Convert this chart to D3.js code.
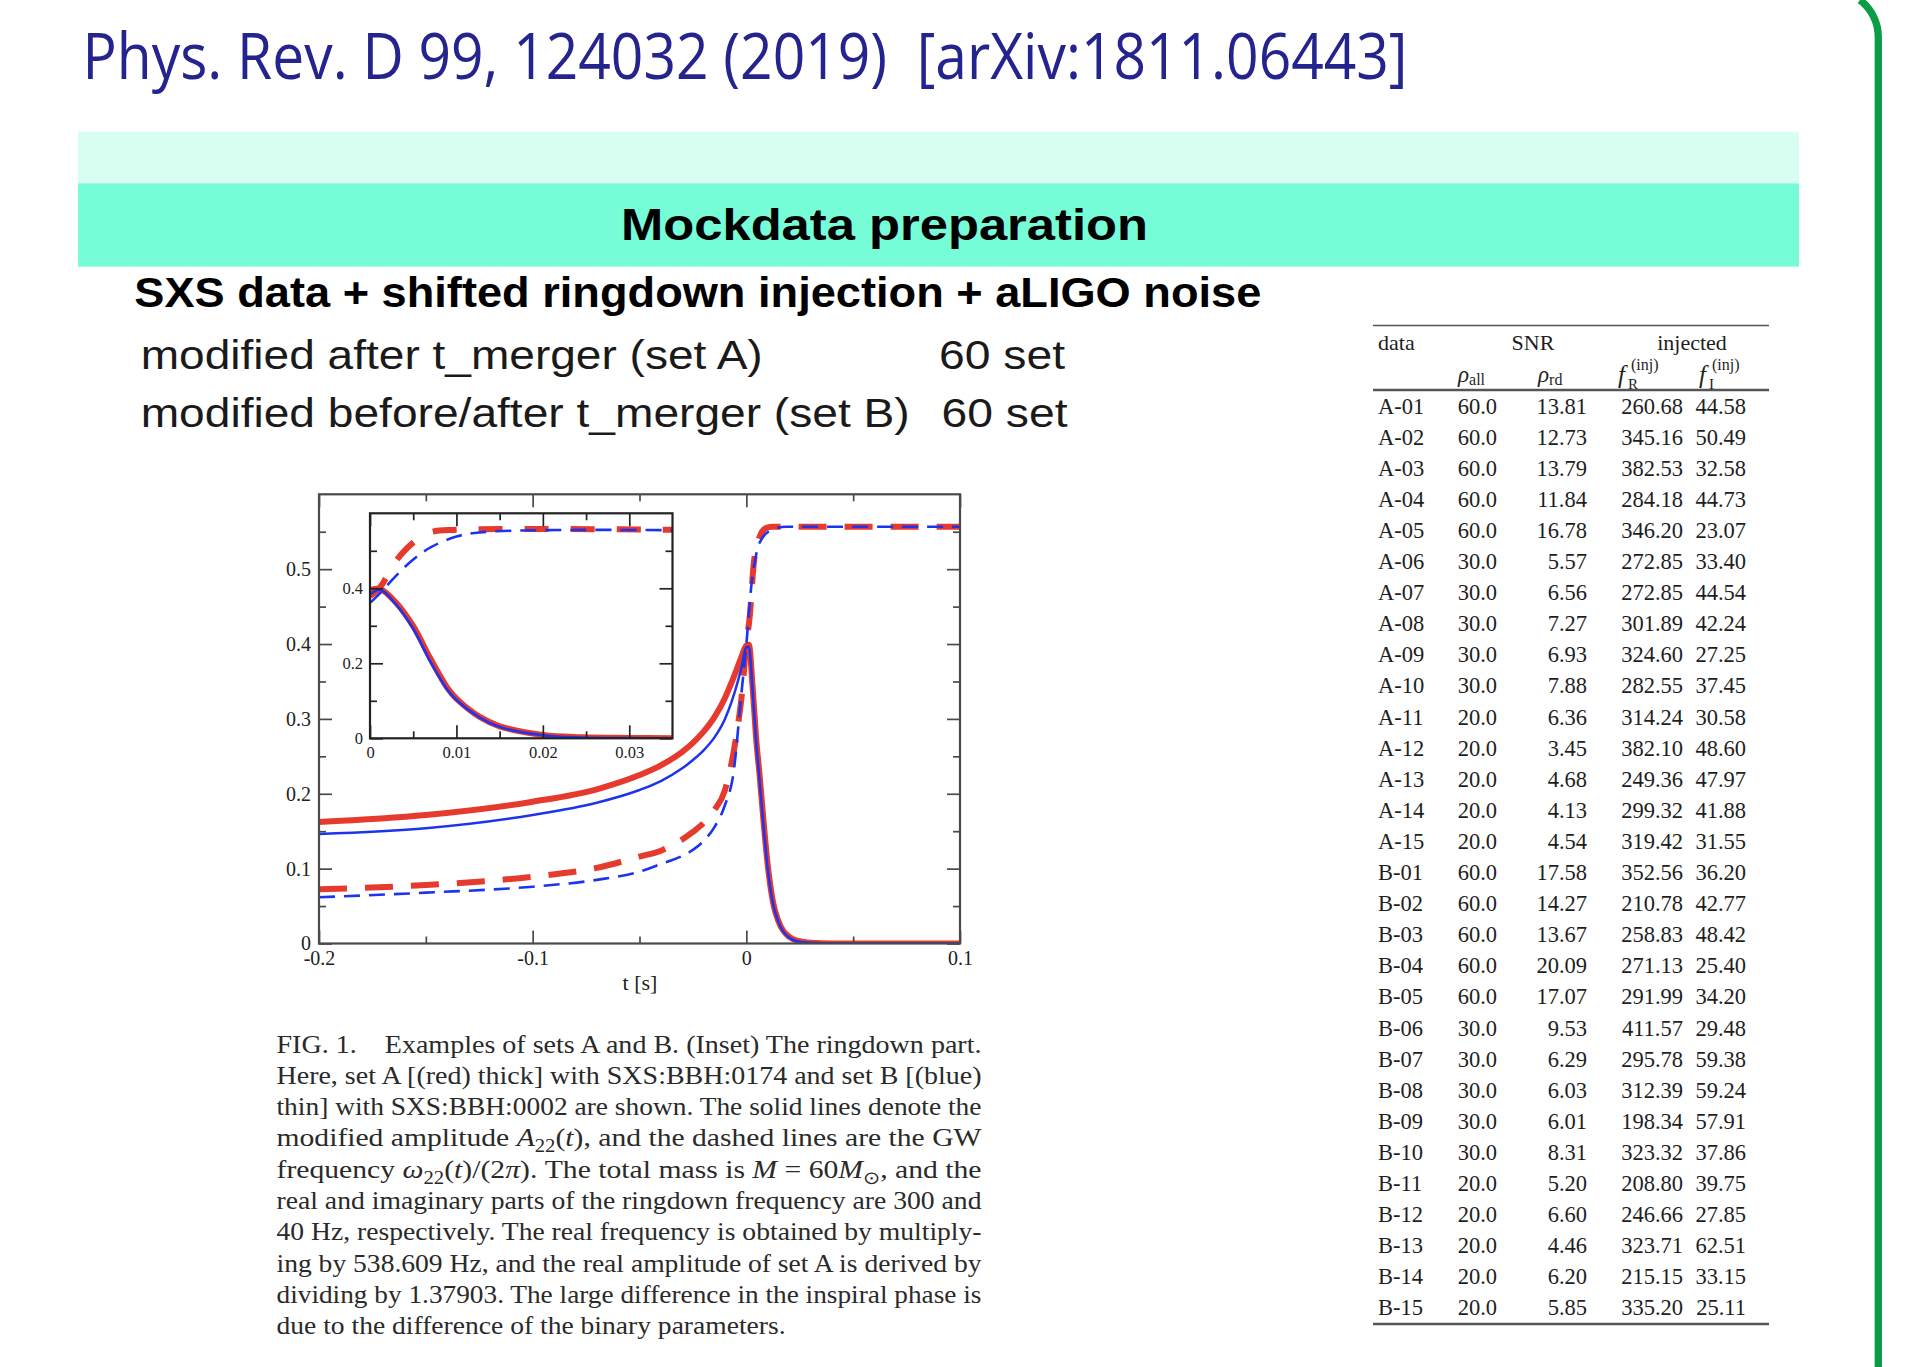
<!DOCTYPE html>
<html>
<head>
<meta charset="utf-8">
<script src="https://cdn.jsdelivr.net/npm/d3@7"></script>
<style>
body { margin: 0; background: #fff; }
svg { display: block; }
</style>
</head>
<body>
<div id="canvas"></div>
<script>
const svgWidth = 1908;
const svgHeight = 1367;
const serif = '"Liberation Serif", "Times New Roman", serif';
const sans = '"Liberation Sans", Arial, Helvetica, sans-serif';
const red = '#e63a2e';
const blue = '#1d34ee';

// ---- main plot series ----
const tAmp = [-0.2, -0.15, -0.1, -0.07, -0.05, -0.04, -0.03, -0.025, -0.02, -0.015, -0.01, -0.007, -0.004, -0.002, 0, 0.0012, 0.003, 0.0047, 0.0062, 0.008, 0.01, 0.0125, 0.015, 0.02, 0.025, 0.03, 0.04, 0.1];
const ampA = [0.1623, 0.1716, 0.1894, 0.206, 0.225, 0.238, 0.256, 0.268, 0.283, 0.302, 0.328, 0.348, 0.370, 0.385, 0.398, 0.399, 0.340, 0.270, 0.225, 0.165, 0.105, 0.055, 0.030, 0.009, 0.003, 0.001, 0, 0];
const ampB = [0.1463, 0.1539, 0.1716, 0.188, 0.205, 0.217, 0.234, 0.245, 0.258, 0.275, 0.300, 0.322, 0.350, 0.372, 0.396, 0.396, 0.335, 0.265, 0.218, 0.158, 0.100, 0.053, 0.029, 0.008, 0.002, 0.001, 0, 0];

const tFreqA = [-0.2, -0.15, -0.1, -0.07, -0.05, -0.04, -0.03, -0.025, -0.02, -0.015, -0.01, -0.007, -0.004, -0.002, 0, 0.0016, 0.0035, 0.0062, 0.009, 0.012, 0.1];
const freqA = [0.0724, 0.0781, 0.0892, 0.101, 0.116, 0.124, 0.139, 0.149, 0.161, 0.178, 0.205, 0.240, 0.29, 0.335, 0.40, 0.437, 0.508, 0.543, 0.5546, 0.5567, 0.5567];
const tFreqB = [-0.2, -0.15, -0.1, -0.07, -0.05, -0.04, -0.03, -0.025, -0.02, -0.015, -0.01, -0.006, -0.0023, 0, 0.0023, 0.0047, 0.0078, 0.0125, 0.0187, 0.1];
const freqB = [0.0617, 0.0679, 0.0759, 0.085, 0.0959, 0.1062, 0.117, 0.125, 0.137, 0.155, 0.185, 0.228, 0.334, 0.399, 0.4766, 0.521, 0.543, 0.553, 0.5567, 0.5567];

// ---- inset (ringdown part) ----
const tIn = [0, 0.0012, 0.003, 0.005, 0.007, 0.009, 0.010, 0.0127, 0.015, 0.02, 0.0245, 0.03, 0.035];
const inAmpA = [0.395, 0.398, 0.362, 0.299, 0.212, 0.133, 0.106, 0.057, 0.032, 0.009, 0.003, 0.001, 0];
const inAmpB = [0.384, 0.396, 0.357, 0.292, 0.204, 0.128, 0.102, 0.055, 0.030, 0.008, 0.002, 0.0005, 0];
const tInFreqA = [0, 0.0012, 0.003, 0.005, 0.007, 0.01, 0.035];
const inFreqA = [0.379, 0.404, 0.473, 0.522, 0.549, 0.556, 0.556];
const tInFreqB = [0, 0.0012, 0.003, 0.005, 0.007, 0.01, 0.0127, 0.02, 0.035];
const inFreqB = [0.361, 0.388, 0.433, 0.477, 0.509, 0.538, 0.549, 0.555, 0.555];

// ticks
const mainXMajor = [-0.2, -0.1, 0, 0.1];
const mainXLabels = ['-0.2', '-0.1', '0', '0.1'];
const mainXMinor = [-0.15, -0.05, 0.05];
const mainYMajor = [0, 0.1, 0.2, 0.3, 0.4, 0.5];
const mainYLabels = ['0', '0.1', '0.2', '0.3', '0.4', '0.5'];
const mainYMinor = [0.05, 0.15, 0.25, 0.35, 0.45, 0.55];
const inXMajor = [0, 0.01, 0.02, 0.03];
const inXLabels = ['0', '0.01', '0.02', '0.03'];
const inXMinor = [0.005, 0.015, 0.025];
const inYMajor = [0, 0.2, 0.4];
const inYLabels = ['0', '0.2', '0.4'];
const inYMinor = [0.1, 0.3, 0.5];

// ---- table ----
const dataIds = ['A-01','A-02','A-03','A-04','A-05','A-06','A-07','A-08','A-09','A-10','A-11','A-12','A-13','A-14','A-15',
                 'B-01','B-02','B-03','B-04','B-05','B-06','B-07','B-08','B-09','B-10','B-11','B-12','B-13','B-14','B-15'];
const rhoAll = [60,60,60,60,60,30,30,30,30,30,20,20,20,20,20, 60,60,60,60,60,30,30,30,30,30,20,20,20,20,20];
const rhoRd = [13.81,12.73,13.79,11.84,16.78,5.57,6.56,7.27,6.93,7.88,6.36,3.45,4.68,4.13,4.54,
               17.58,14.27,13.67,20.09,17.07,9.53,6.29,6.03,6.01,8.31,5.20,6.60,4.46,6.20,5.85];
const fR = [260.68,345.16,382.53,284.18,346.20,272.85,272.85,301.89,324.60,282.55,314.24,382.10,249.36,299.32,319.42,
            352.56,210.78,258.83,271.13,291.99,411.57,295.78,312.39,198.34,323.32,208.80,246.66,323.71,215.15,335.20];
const fI = [44.58,50.49,32.58,44.73,23.07,33.40,44.54,42.24,27.25,37.45,30.58,48.60,47.97,41.88,31.55,
            36.20,42.77,48.42,25.40,34.20,29.48,59.38,59.24,57.91,37.86,39.75,27.85,62.51,33.15,25.11];

const captionLines = [
  'FIG. 1.\u2002\u2002Examples of sets A and B. (Inset) The ringdown part.',
  'Here, set A [(red) thick] with SXS:BBH:0174 and set B [(blue)',
  'thin] with SXS:BBH:0002 are shown. The solid lines denote the',
  'modified amplitude {i:A}{s:22}({i:t}), and the dashed lines are the GW',
  'frequency {i:\u03c9}{s:22}({i:t})/(2{i:\u03c0}). The total mass is {i:M} = 60{i:M}{s:\u2299}, and the',
  'real and imaginary parts of the ringdown frequency are 300 and',
  '40 Hz, respectively. The real frequency is obtained by multiply-',
  'ing by 538.609 Hz, and the real amplitude of set A is derived by',
  'dividing by 1.37903. The large difference in the inspiral phase is',
  'due to the difference of the binary parameters.'
];

function translate(x, y) {
    return `translate(${x}, ${y})`;
}

const svg = d3.select('#canvas').append('svg')
    .attr('width', svgWidth)
    .attr('height', svgHeight);

// fit a text element to a given width
function fit(sel, w) {
    sel.attr('textLength', w).attr('lengthAdjust', 'spacingAndGlyphs');
    return sel;
}

// title
fit(svg.append('text')
    .attr('x', 82.5).attr('y', 78.5)
    .attr('font-family', '"Open Sans", "Noto Sans", sans-serif')
    .attr('font-size', 64)
    .attr('fill', '#25248e')
    .text('Phys. Rev. D 99, 124032 (2019)\u00a0\u00a0[arXiv:1811.06443]'), 1325);

// green frame at the right
svg.append('path')
    .attr('d', 'M1860,0 A46.6,46.6 0 0 1 1878.3,37 L1878.3,1367')
    .attr('fill', 'none')
    .attr('stroke', '#0b9c46')
    .attr('stroke-width', 7.3);

// header bands
svg.append('rect').attr('x', 78).attr('y', 131.7).attr('width', 1721).attr('height', 51.6).attr('fill', '#d8fdf1');
svg.append('rect').attr('x', 78).attr('y', 183.3).attr('width', 1721).attr('height', 83.4).attr('fill', '#76fcd7');

fit(svg.append('text')
    .attr('x', 621).attr('y', 240)
    .attr('font-family', sans).attr('font-weight', 'bold').attr('font-size', 44)
    .text('Mockdata preparation'), 527);

fit(svg.append('text')
    .attr('x', 134.3).attr('y', 306.7)
    .attr('font-family', sans).attr('font-weight', 'bold').attr('font-size', 42)
    .text('SXS data + shifted ringdown injection + aLIGO noise'), 1127);

const bullets = [
    { text: 'modified after t_merger (set A)', y: 369, w: 622, x2: 939 },
    { text: 'modified before/after t_merger (set B)', y: 426.7, w: 769, x2: 941.5 }
];
bullets.forEach(b => {
    fit(svg.append('text').attr('x', 140.7).attr('y', b.y)
        .attr('font-family', sans).attr('font-size', 40).attr('fill', '#1a1a1a')
        .text(b.text), b.w);
    fit(svg.append('text').attr('x', b.x2).attr('y', b.y)
        .attr('font-family', sans).attr('font-size', 40).attr('fill', '#1a1a1a')
        .text('60 set'), 126);
});

// ---------- plot helpers ----------
function addAxes(g, xs, ys, cfg) {
    const bottom = ys.range()[0], top = ys.range()[1];
    const left = xs.range()[0], right = xs.range()[1];
    const mk = (axis, pos, vals, size, labels, pad) => {
        const a = axis.tickValues(vals).tickSize(-size).tickSizeOuter(0).tickPadding(pad || 0)
            .tickFormat(labels ? (d, i) => labels[i] : '');
        const sel = g.append('g').attr('transform', pos).call(a);
        sel.select('.domain').remove();
        sel.selectAll('line').attr('stroke', cfg.color).attr('stroke-width', 1.7);
        sel.selectAll('text').attr('font-family', serif).attr('font-size', cfg.fontSize).attr('fill', '#222');
        return sel;
    };
    mk(d3.axisBottom(xs), translate(0, bottom), cfg.xMajor, cfg.major, cfg.xLabels, cfg.xPad);
    mk(d3.axisBottom(xs), translate(0, bottom), cfg.xMinor, cfg.minor);
    mk(d3.axisTop(xs), translate(0, top), cfg.xMajor, cfg.major);
    mk(d3.axisTop(xs), translate(0, top), cfg.xMinor, cfg.minor);
    mk(d3.axisLeft(ys), translate(left, 0), cfg.yMajor, cfg.major, cfg.yLabels, cfg.yPad);
    mk(d3.axisLeft(ys), translate(left, 0), cfg.yMinor, cfg.minor);
    mk(d3.axisRight(ys), translate(right, 0), cfg.yMajor, cfg.major);
    mk(d3.axisRight(ys), translate(right, 0), cfg.yMinor, cfg.minor);
    g.append('rect')
        .attr('x', left).attr('y', top)
        .attr('width', right - left).attr('height', bottom - top)
        .attr('fill', 'none').attr('stroke', cfg.color).attr('stroke-width', 2.2);
}

function drawSeries(g, xs, ys, ts, vs, color, width, dash, clipId, curve) {
    const line = d3.line()
        .x(d => xs(d[0]))
        .y(d => ys(d[1]))
        .curve(curve || d3.curveMonotoneX);
    g.append('path')
        .datum(d3.zip(ts, vs))
        .attr('d', line)
        .attr('fill', 'none')
        .attr('stroke', color)
        .attr('stroke-width', width)
        .attr('stroke-dasharray', dash)
        .attr('stroke-linejoin', 'round')
        .attr('clip-path', `url(#${clipId})`);
}

function addClip(id, xs, ys) {
    svg.append('defs').append('clipPath').attr('id', id)
        .append('rect')
        .attr('x', xs.range()[0]).attr('y', ys.range()[1])
        .attr('width', xs.range()[1] - xs.range()[0])
        .attr('height', ys.range()[0] - ys.range()[1]);
}

// ---------- main plot ----------
const x = d3.scaleLinear().domain([-0.2, 0.1]).range([319, 960]);
const y = d3.scaleLinear().domain([0, 0.6]).range([943.5, 494.3]);
addClip('clipMain', x, y);
const mainG = svg.append('g');

drawSeries(mainG, x, y, tFreqA, freqA, red, 6, '28,18', 'clipMain');
drawSeries(mainG, x, y, tAmp, ampA, red, 6, null, 'clipMain');
drawSeries(mainG, x, y, tFreqB, freqB, blue, 2.6, '16,9', 'clipMain');
drawSeries(mainG, x, y, tAmp, ampB, blue, 2.5, null, 'clipMain');

addAxes(mainG, x, y, {
    color: '#4a4a4a', major: 13, minor: 7, fontSize: 20,
    xMajor: mainXMajor, xMinor: mainXMinor, xLabels: mainXLabels, xPad: 7.5,
    yMajor: mainYMajor, yMinor: mainYMinor, yLabels: mainYLabels, yPad: 8
});

mainG.append('text')
    .attr('x', 640).attr('y', 990)
    .attr('text-anchor', 'middle')
    .attr('font-family', serif).attr('font-size', 22).attr('fill', '#222')
    .text('t [s]');

// ---------- inset ----------
const xi = d3.scaleLinear().domain([0, 0.035]).range([370, 672.5]);
const yi = d3.scaleLinear().domain([0, 0.6]).range([738.3, 513.3]);
addClip('clipInset', xi, yi);
const insetG = svg.append('g');
insetG.append('rect')
    .attr('x', xi.range()[0]).attr('y', yi.range()[1])
    .attr('width', xi.range()[1] - xi.range()[0])
    .attr('height', yi.range()[0] - yi.range()[1])
    .attr('fill', '#fff');

const smooth = d3.curveCatmullRom.alpha(0.5);
drawSeries(insetG, xi, yi, tInFreqA, inFreqA, red, 6, '24,22', 'clipInset', smooth);
drawSeries(insetG, xi, yi, tIn, inAmpA, red, 6, null, 'clipInset', smooth);
drawSeries(insetG, xi, yi, tInFreqB, inFreqB, blue, 2.6, '16,9', 'clipInset', smooth);
drawSeries(insetG, xi, yi, tIn, inAmpB, blue, 2.6, null, 'clipInset', smooth);

addAxes(insetG, xi, yi, {
    color: '#222', major: 13, minor: 7, fontSize: 16.5,
    xMajor: inXMajor, xMinor: inXMinor, xLabels: inXLabels, xPad: 8,
    yMajor: inYMajor, yMinor: inYMinor, yLabels: inYLabels, yPad: 7
});

// ---------- caption ----------
function addRich(textSel, str, shift) {
    const parts = str.split(/(\{[is]:[^}]*\})/).filter(s => s.length);
    let lowered = false;
    parts.forEach(p => {
        const m = p.match(/^\{([is]):([^}]*)\}$/);
        const ts = textSel.append('tspan');
        if (m && m[1] === 's') {
            ts.attr('font-size', '0.7em').text(m[2]);
            if (!lowered) ts.attr('dy', shift);
            lowered = true;
        } else {
            if (lowered) { ts.attr('dy', -shift); lowered = false; }
            if (m) ts.attr('font-style', 'italic').text(m[2]);
            else ts.text(p);
        }
    });
}

const capLeft = 276.5, capWidth = 705, capTop = 1052.5, capStep = 31.3;
captionLines.forEach((line, i) => {
    const t = svg.append('text')
        .attr('x', capLeft).attr('y', capTop + i * capStep)
        .attr('font-family', serif).attr('font-size', 26).attr('fill', '#2a2a2a');
    addRich(t, line, 6);
    const natural = t.node().getComputedTextLength();
    if (i < captionLines.length - 1) {
        fit(t, capWidth);
    } else {
        // last line: same horizontal stretch as the average justified line
        fit(t, natural * 1.06);
    }
});

// ---------- table ----------
const tab = svg.append('g').attr('font-family', serif).attr('fill', '#1e1e1e');
const tabLeft = 1373, tabRight = 1769;
const rowY0 = 413.5, rowStep = 31.1;
const colId = 1378, colAll = 1497, colRd = 1587, colFR = 1683, colFI = 1746;

[[325.5, 1.6], [390, 2.4], [1324, 2.4]].forEach(([ly, w]) => {
    tab.append('line').attr('x1', tabLeft).attr('x2', tabRight).attr('y1', ly).attr('y2', ly)
        .attr('stroke', '#555').attr('stroke-width', w);
});

tab.append('text').attr('x', colId).attr('y', 350).attr('font-size', 22).text('data');
tab.append('text').attr('x', 1533).attr('y', 350).attr('font-size', 22).attr('text-anchor', 'middle').text('SNR');
tab.append('text').attr('x', 1692).attr('y', 350).attr('font-size', 22).attr('text-anchor', 'middle').text('injected');

function rhoHead(x0, sub) {
    const t = tab.append('text').attr('x', x0).attr('y', 382).attr('font-size', 23);
    t.append('tspan').attr('font-style', 'italic').text('\u03c1');
    t.append('tspan').attr('font-size', 16).attr('dy', 3).text(sub);
}
rhoHead(1458, 'all');
rhoHead(1538, 'rd');

function fHead(x0, sub) {
    tab.append('text').attr('x', x0).attr('y', 383).attr('font-size', 25).attr('font-style', 'italic').text('f');
    tab.append('text').attr('x', x0 + 13).attr('y', 370).attr('font-size', 16).text('(inj)');
    tab.append('text').attr('x', x0 + 10).attr('y', 389).attr('font-size', 15).text(sub);
}
fHead(1618, 'R');
fHead(1699, 'I');

dataIds.forEach((id, i) => {
    const ry = rowY0 + i * rowStep;
    const row = tab.append('g').attr('font-size', 22.5);
    row.append('text').attr('x', colId).attr('y', ry).text(id);
    row.append('text').attr('x', colAll).attr('y', ry).attr('text-anchor', 'end').text(rhoAll[i].toFixed(1));
    row.append('text').attr('x', colRd).attr('y', ry).attr('text-anchor', 'end').text(rhoRd[i].toFixed(2));
    row.append('text').attr('x', colFR).attr('y', ry).attr('text-anchor', 'end').text(fR[i].toFixed(2));
    row.append('text').attr('x', colFI).attr('y', ry).attr('text-anchor', 'end').text(fI[i].toFixed(2));
});
</script>
</body>
</html>
